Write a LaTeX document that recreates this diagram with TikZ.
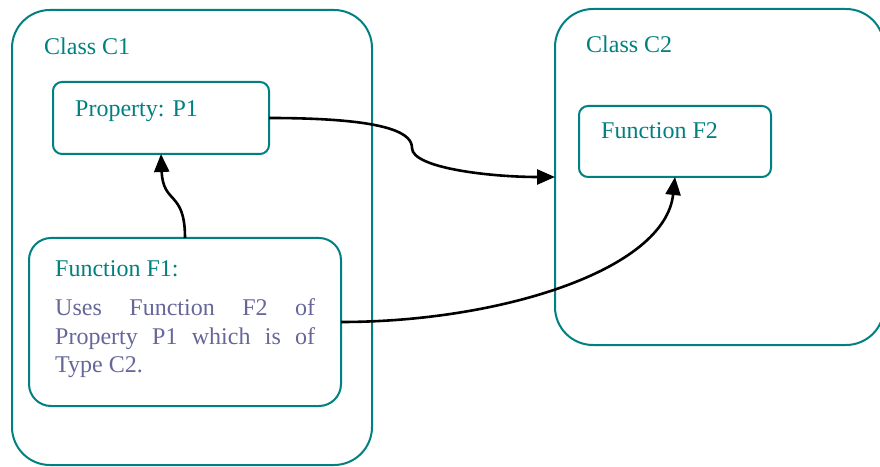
\documentclass[tikz,border=0pt]{standalone}
\usepackage{fontspec}
\setmainfont{Liberation Serif}
\usetikzlibrary{arrows.meta}
\definecolor{tealc}{RGB}{0,128,128}
\definecolor{bodyc}{RGB}{102,102,153}
\tikzset{
  classbox/.style={draw=tealc, line width=2pt, rounded corners=38pt, inner sep=0pt, outer sep=0pt},
  membox/.style={draw=tealc, line width=2pt, inner sep=0pt, outer sep=0pt},
  lbl/.style={anchor=base west, inner sep=0pt, text=tealc, font=\fontsize{24}{28}\selectfont},
  bodytxt/.style={anchor=base west, inner sep=0pt, text=bodyc, font=\fontsize{24}{28}\selectfont},
  conn/.style={line width=2.6pt, black, -{Triangle[length=18pt,width=15pt]}}
}
\begin{document}
\begin{tikzpicture}[x=1pt,y=1pt]
\useasboundingbox (0,0) rectangle (880,466);
% class boxes
\node[classbox, minimum width=360pt, minimum height=455pt] (c1) at (192,228.5) {};
\node[classbox, minimum width=329pt, minimum height=336pt] (c2) at (719.5,289) {};
\node[lbl] (c1lbl) at (44,411) {Class C1};
\node[lbl] (c2lbl) at (586,413) {Class C2};
% member boxes
\node[membox, rounded corners=9pt, minimum width=216pt, minimum height=72pt] (prop) at (161,348) {};
\node[lbl] (proplbl) at (75,349) {Property: P1};
\node[membox, rounded corners=22pt, minimum width=312pt, minimum height=168pt] (f1) at (185,144) {};
\node[lbl] (f1lbl) at (55,189) {Function F1:};
\node[bodytxt] (f1body1) at (55,150) {\makebox[260pt][s]{Uses Function F2 of}};
\node[bodytxt] (f1body2) at (55,122) {\makebox[260pt][s]{Property P1 which is of}};
\node[bodytxt] (f1body3) at (55,94) {Type C2.};
\node[membox, rounded corners=9pt, minimum width=192pt, minimum height=71pt] (f2) at (675,324.5) {};
\node[lbl] (f2lbl) at (601,327) {Function F2};
% connectors
\draw[conn] (f1.north) .. controls ++(0,48) and ++(2,-51) .. (prop.south);
\coordinate (kink) at (412,318);
\draw[conn] (prop.east) .. controls ++(126,0) and ++(0,13) .. (kink) .. controls ++(0,-20) and ++(-65,0) .. (c2.west);
\draw[conn] (f1.east) .. controls ++(159,0) and ++(-10,-93) .. (f2.south);
\end{tikzpicture}
\end{document}
